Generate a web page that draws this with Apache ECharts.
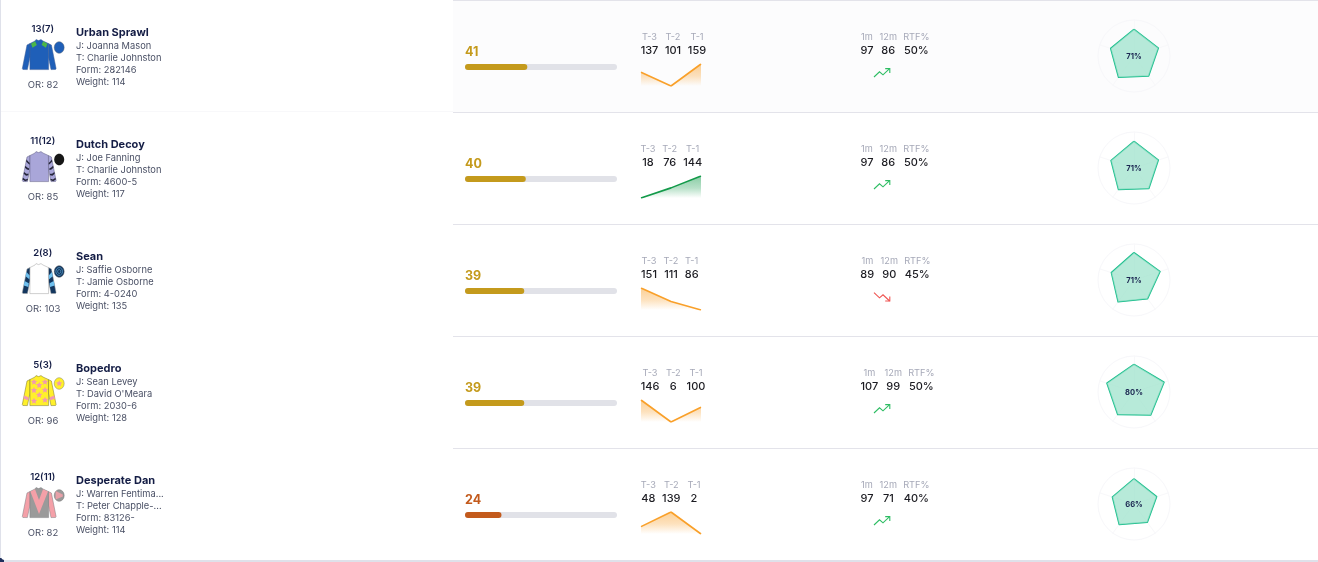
<!DOCTYPE html>
<html><head><meta charset="utf-8">
<style>html,body{margin:0;padding:0;background:#dfe1ea;overflow:hidden}#c{width:1318px;height:562px}</style>
<script src="https://cdn.jsdelivr.net/npm/echarts@6/dist/echarts.min.js"></script>
</head><body><div id="c"></div>
<script>
// ---- data ----
const draws=['13(7)','11(12)','2(8)','5(3)','12(11)'];
const names=['Urban Sprawl','Dutch Decoy','Sean','Bopedro','Desperate Dan'];
const jockeys=['J: Joanna Mason','J: Joe Fanning','J: Saffie Osborne','J: Sean Levey','J: Warren Fentima...'];
const trainers=['T: Charlie Johnston','T: Charlie Johnston','T: Jamie Osborne',"T: David O'Meara",'T: Peter Chapple-...'];
const forms=['Form: 282146','Form: 4600-5','Form: 4-0240','Form: 2030-6','Form: 83126-'];
const weights=['Weight: 114','Weight: 117','Weight: 135','Weight: 128','Weight: 114'];
const ratings=['OR: 82','OR: 85','OR: 103','OR: 96','OR: 82'];
const scores=[41,40,39,39,24];
const speedLabels=['T-3','T-2','T-1'];
const speed=[[137,101,159],[18,76,144],[151,111,86],[146,6,100],[48,139,2]];
const formLabels=['1m','12m','RTF%'];
const m1=['97','97','89','107','97'];
const m12=['86','86','90','99','71'];
const rtf=['50%','50%','45%','50%','40%'];
const trendUp=[true,true,false,true,true];
const radarPct=['71%','71%','71%','80%','66%'];
// radar values, order: top, left, lower-left, lower-right, right
const radarVals=[[74,68,73,69,71],[74,67,73.5,70,71],[76,66,75,64,76],[77,79,77,79,87.6],[70,63,70,63,66]];

// ---- layout / style ----
const ROW=112, FONT='Inter, "Noto Sans", sans-serif';
const scoreColors=['#c49a1c','#c49a1c','#c49a1c','#c49a1c','#c35a1c'];
const speedCols=[[649.5,673,697],[648,669.7,692.7],[649,671,691.7],[650,673.3,696],[648.3,671.3,694]];
const formCols=[[867,888.3,916.3],[867,888.3,916.3],[867.3,889.3,917.3],[869.3,893.3,921.3],[867,888.3,916.3]];
const lineColors=['#f9a02a','#139a4a','#f9a02a','#f9a02a','#f9a02a'];
const areaRgb=['249,160,42','19,154,74','249,160,42','249,160,42','249,160,42'];
const silkBody=['#1f5fb8','#a9a6d9','#ffffff','#fff02a','#9a9a9a'];
const silkSleeve=['#1f5fb8','#a9a6d9','#13365e','#fff02a','#f4a0a8'];
const silkCap=['#1f5fb8','#161616','#13365e','#fff02a','#9a9a9a'];
const silkEdge=['#3f5f96','#5e5c80','#a0a0a0','#77702a','#7c7c80'];

const g=[], grid=[], xAxis=[], yAxis=[], series=[], radar=[];
function txt(x,y,text,size,color,weight,align){
  g.push({type:'text',z:5,style:{x,y,text,fontFamily:FONT,fontSize:size,fill:color,fontWeight:weight||400,textAlign:align||'left',textVerticalAlign:'middle'}});
}
function poly(points,fill,z,stroke,sw){
  g.push({type:'polygon',z:z||3,shape:{points},style:{fill,stroke:stroke||null,lineWidth:sw||0}});
}
function rect(x,y,w,h,fill,z,r){
  g.push({type:'rect',z:z===undefined?1:z,shape:{x,y,width:w,height:h,r:r||0},style:{fill}});
}
function star(cx,cy,R,fill,z){
  const p=[];
  for(let i=0;i<10;i++){const r=i%2?R*.48:R,a=-Math.PI/2+i*Math.PI/5;p.push([cx+r*Math.cos(a),cy+r*Math.sin(a)]);}
  poly(p,fill,z||4);
}
const MID=39.2;
function sleevePts(side,t0,t1,dy){
  const A=[27,45.2],A2=[22.3,69],B=[30,49],B2=[27.6,69.5];
  const lerp=(P,Q,t)=>[P[0]+(Q[0]-P[0])*t,P[1]+(Q[1]-P[1])*t];
  return [lerp(A,A2,t0),lerp(B,B2,t0),lerp(B,B2,t1),lerp(A,A2,t1)].map(p=>[side<0?p[0]:2*MID-p[0],p[1]+dy]);
}
function silk(i){
  const d=i*ROW, o=silkEdge[i], off=p=>p.map(q=>[q[0],q[1]+d]);
  const sleeve=[[30,43.5],[27,45],[22.3,68.6],[22.9,69.5],[27.4,69.6],[30,57]];
  poly(off(sleeve),silkSleeve[i],3,o,.5);
  poly(off(sleeve.map(p=>[2*MID-p[0],p[1]])),silkSleeve[i],3,o,.5);
  poly(off([[30,43.5],[35,41],[36,39.6],[38.6,40.6],[41,39.6],[43,41],[48.4,43.5],[48.6,69.6],[29.9,69.6]]),silkBody[i],4,o,.5);
  g.push({type:'ellipse',z:4,shape:{cx:59.2,cy:47.5+d,rx:5,ry:5.8},style:{fill:silkCap[i],stroke:i===1?null:'#666',lineWidth:.4}});
  if(i===0){
    poly(off([[31,43.8],[35.2,41.2],[36.8,45],[32.5,47.8]]),'#4cb648',5);
    poly(off([[47.4,43.8],[43.2,41.2],[41.6,45],[45.9,47.8]]),'#4cb648',5);
  }
  if(i===1){
    [0.1,0.36,0.62,0.86].forEach(t=>[-1,1].forEach(s=>{
      const q=sleevePts(s,t,t+.08,d);
      poly([q[0],[(q[0][0]+q[1][0])/2,q[0][1]+1.8],q[1],q[2],[(q[2][0]+q[3][0])/2,q[3][1]+1.8],q[3]],'#26263a',5);
    }));
  }
  if(i===2){
    [-1,1].forEach(s=>{[[.12,.3],[.5,.68]].forEach(b=>poly(sleevePts(s,b[0],b[1],d),'#6fc0ee',5));});
    g.push({type:'ellipse',z:5,shape:{cx:59.2,cy:47.5+d,rx:3.3,ry:3.9},style:{fill:null,stroke:'#5fa8d6',lineWidth:.7}});
    g.push({type:'ellipse',z:5,shape:{cx:59.2,cy:47.5+d,rx:1.6,ry:1.9},style:{fill:null,stroke:'#5fa8d6',lineWidth:.7}});
  }
  if(i===3){
    [[34,46],[45,46],[39.2,49.3],[34,54.3],[45,54],[39.2,59],[34,65],[45,64]].forEach(p=>star(p[0],p[1]+d,3.3,'#f29ab0',5));
    [-1,1].forEach(s=>poly(sleevePts(s,.6,.74,d),'#f29ab0',5));
    star(59.2,47.5+d,3.2,'#f29ab0',5);
  }
  if(i===4){
    poly(off([[30.4,43.6],[35,41.2],[39,52],[43,41.2],[48,43.6],[39,66]]),'#f4a0a8',5);
    poly(off([[55.6,43],[62.8,46.5],[62.8,48.5],[55.6,51.5]]),'#e8a0a8',5);
  }
}

// panel backgrounds
rect(0,558,4,4,'#1f2f5c',-3);
g.push({type:'rect',z:-2,shape:{x:1,y:0,width:1320,height:560,r:[0,0,0,4]},style:{fill:'#ffffff'}});
rect(453,1,865,111,'#fcfcfd',-1);
rect(453,0,865,1,'#e3e3ea',2);
rect(1,111,452,1,'#f8f8fa',2);
for(let i=1;i<5;i++) rect(453,i*ROW,865,1,'#e3e3ea',2);

names.forEach((name,i)=>{
  const d=i*ROW;
  silk(i);
  txt(42.7,28.8+d,draws[i],9.5,'#141d45',600,'center');
  txt(43,84.8+d,ratings[i],9.5,'#4a5065',400,'center');
  txt(76,33+d,name,11,'#141d45',700);
  txt(76,45.8+d,jockeys[i],9.3,'#4a5065');
  txt(76,57.8+d,trainers[i],9.3,'#4a5065');
  txt(76,69.8+d,forms[i],9.3,'#4a5065');
  txt(76,81.8+d,weights[i],9.3,'#4a5065');

  // score bar
  txt(465,52.3+d,String(scores[i]),12.5,scoreColors[i],700);
  const gb=grid.length;
  grid.push({left:465,width:152,top:64+d,height:6});
  xAxis.push({type:'value',gridIndex:gb,min:0,max:100,show:false});
  yAxis.push({type:'category',gridIndex:gb,data:[names[i]],show:false});
  series.push({type:'bar',xAxisIndex:gb,yAxisIndex:gb,data:[scores[i]],barWidth:6,showBackground:true,
    backgroundStyle:{color:'#e1e2e8',borderRadius:3},itemStyle:{color:scoreColors[i],borderRadius:3},silent:true});

  // speed sparkline
  speedLabels.forEach((l,k)=>{
    txt(speedCols[i][k],37.4+d,l,9.2,'#a6a9b8',400,'center');
    txt(speedCols[i][k],51+d,String(speed[i][k]),11,'#1c1c22',500,'center');
  });
  const gs=grid.length;
  grid.push({left:641,width:60,top:64+d,height:22});
  xAxis.push({type:'category',gridIndex:gs,data:speedLabels,boundaryGap:false,show:false});
  yAxis.push({type:'value',gridIndex:gs,min:'dataMin',max:'dataMax',show:false});
  series.push({type:'line',xAxisIndex:gs,yAxisIndex:gs,data:speed[i],showSymbol:false,silent:true,
    lineStyle:{color:lineColors[i],width:1.6},
    areaStyle:{opacity:1,color:new echarts.graphic.LinearGradient(0,0,0,1,[
      {offset:0,color:'rgba('+areaRgb[i]+',.5)'},{offset:.55,color:'rgba('+areaRgb[i]+',.3)'},{offset:1,color:'rgba('+areaRgb[i]+',0)'}])}});

  // recent form
  formLabels.forEach((l,k)=>{
    txt(formCols[i][k],37.5+d,l,9.2,'#a6a9b8',400,'center');
    txt(formCols[i][k],51.1+d,[m1,m12,rtf][k][i],11,'#1c1c22',500,'center');
  });
  const up=trendUp[i], c=up?'#2dbd63':'#ef5350', Y=y=>d+(up?y:145.6-y);
  g.push({type:'polyline',z:4,shape:{points:[[874,Y(77)],[879.5,Y(71.8)],[883,Y(74.8)],[889.6,Y(68.6)]]},style:{stroke:c,lineWidth:1.1,fill:null}});
  g.push({type:'polyline',z:4,shape:{points:[[885.2,Y(68.6)],[889.8,Y(68.6)],[889.8,Y(73)]]},style:{stroke:c,lineWidth:1.1,fill:null}});

  // radar
  const ri=radar.length;
  radar.push({center:[1134,56+d],radius:36,splitNumber:1,shape:'circle',startAngle:90,
    indicator:radarVals[i].map(()=>({min:0,max:100})),
    axisName:{show:false},axisLabel:{show:false},axisTick:{show:false},
    axisLine:{lineStyle:{color:'#f8f8fa',width:1}},
    splitLine:{lineStyle:{color:'#f7f7fa',width:1}},splitArea:{show:false}});
  series.push({type:'radar',radarIndex:ri,symbol:'none',silent:true,
    data:[{value:radarVals[i],lineStyle:{color:'#16bd8a',width:1.5},areaStyle:{color:'#9fe3cc',opacity:.75}}]});
  txt(1134,56.8+d,radarPct[i],7.6,'#1a2550',700,'center');
});

const chart=echarts.init(document.getElementById('c'),null,{renderer:'canvas'});
chart.setOption({animation:false,backgroundColor:'transparent',tooltip:{show:false},
  grid,xAxis,yAxis,radar,series,graphic:{elements:g}});
</script></body></html>
